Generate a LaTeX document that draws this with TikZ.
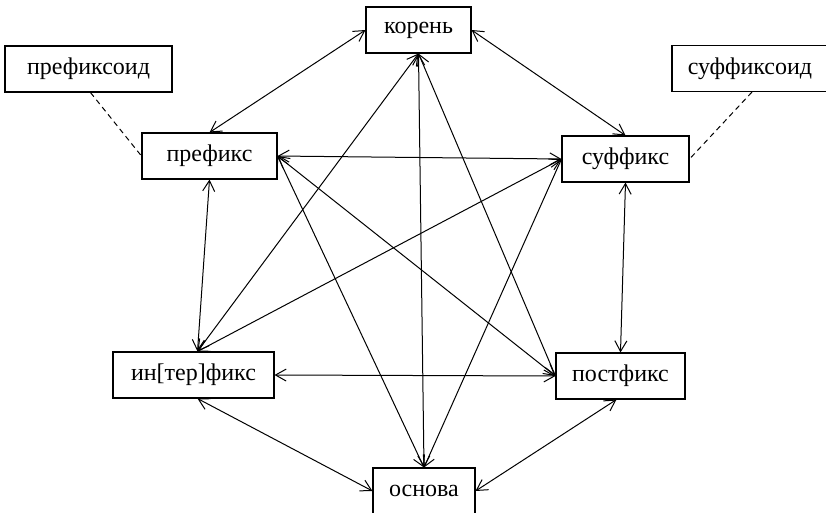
\documentclass[tikz,border=0pt]{standalone}
\usepackage{fontspec}
\setmainfont{Liberation Serif}
\usetikzlibrary{arrows.meta}

\tikzset{
  blok/.style={draw, rectangle, inner sep=0pt, minimum height=34.5pt, line width=0.8pt,
    font=\fontsize{18}{20}\selectfont},
  svyaz/.style={line width=0.75pt, {Straight Barb[length=8pt,width=9pt]}-{Straight Barb[length=8pt,width=9pt]}},
  punktir/.style={line width=0.75pt, dash pattern=on 4pt off 3pt}
}

\begin{document}
\begin{tikzpicture}[x=0.75pt,y=0.75pt,yscale=-1,xscale=1]
\useasboundingbox (0,0) rectangle (826,512);
%Shape: Rectangle [koren]
\node [blok, minimum width=78.75pt] (koren) at (418.5,30) {корень};
%Shape: Rectangle [prefiksoid]
\node [blok, minimum width=125.25pt] (prefiksoid) at (88.5,69) {префиксоид};
%Shape: Rectangle [prefiks]
\node [blok, minimum width=101.25pt] (prefiks) at (209.5,156) {префикс};
%Shape: Rectangle [suffiks]
\node [blok, minimum width=95.25pt] (suffiks) at (625.5,159) {суффикс};
%Shape: Rectangle [suffiksoid]
\node [blok, minimum width=117pt] (suffiksoid) at (750,68.5) {суффиксоид};
%Shape: Rectangle [interfiks]
\node [blok, minimum width=120.75pt] (interfiks) at (193.5,375) {ин[тер]фикс};
%Shape: Rectangle [postfiks]
\node [blok, minimum width=96.75pt] (postfiks) at (620.5,376) {постфикс};
%Shape: Rectangle [osnova]
\node [blok, minimum width=76.5pt] (osnova) at (424,491) {основа};

%Dashed Lines
\draw [punktir] ([xshift=1.5pt]prefiksoid.south) -- (prefiks.west) ;
\draw [punktir] ([xshift=1.5pt]suffiksoid.south) -- (suffiks.east) ;

%Arrows: outer ring
\draw [svyaz] (koren.west) -- (prefiks.north) ;
\draw [svyaz] (koren.east) -- (suffiks.north) ;
\draw [svyaz] (prefiks.east) -- (suffiks.west) ;
\draw [svyaz] (prefiks.south) -- ([xshift=3pt]interfiks.north) ;
\draw [svyaz] (suffiks.south) -- (postfiks.north) ;
\draw [svyaz] (interfiks.east) -- (postfiks.west) ;
\draw [svyaz] ([xshift=3pt]interfiks.south) -- (osnova.west) ;
\draw [svyaz] ([xshift=-3pt]postfiks.south) -- (osnova.east) ;

%Arrows: inner star
\draw [svyaz] (koren.south) -- ([xshift=3pt]interfiks.north) ;
\draw [svyaz] (koren.south) -- (osnova.north) ;
\draw [svyaz] (koren.south) -- (postfiks.west) ;
\draw [svyaz] (prefiks.east) -- (postfiks.west) ;
\draw [svyaz] (prefiks.east) -- (osnova.north) ;
\draw [svyaz] (suffiks.west) -- ([xshift=3pt]interfiks.north) ;
\draw [svyaz] (suffiks.west) -- (osnova.north) ;
\end{tikzpicture}
\end{document}
